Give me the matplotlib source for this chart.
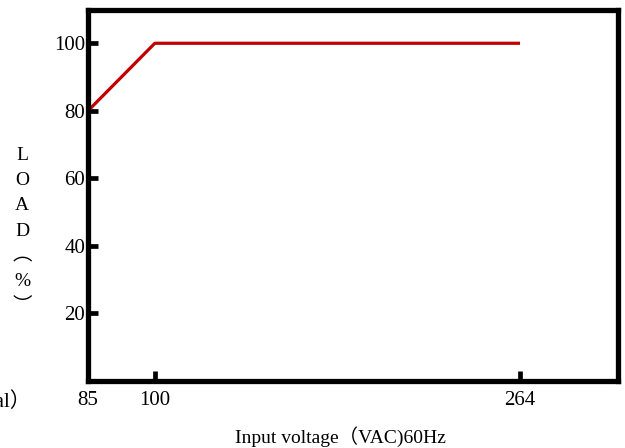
import numpy as np
import matplotlib
matplotlib.use('Agg')
import matplotlib.pyplot as plt

# dados da curva de derating (tensão de entrada x carga)
tensao = [85, 100, 264]
carga = [80, 100, 100]

xticks = [85, 100, 264]
yticks = [20, 40, 60, 80, 100]

# eixo x não linear: trecho 85-100 mais largo que o resto
pontos_x = [85, 100, 308]
pos_x = [0.0, 15.0, 15.0 + 208 / 2.0]

def fwd(v):
    return np.interp(v, pontos_x, pos_x, left=-1e9, right=1e9)

def inv(p):
    return np.interp(p, pos_x, pontos_x)

fonte = ['Liberation Serif', 'Noto Sans CJK SC']
plt.rcParams['font.family'] = fonte

fig = plt.figure(figsize=(6.25, 4.48), dpi=100)
ax = fig.add_axes([88 / 625, 1 - 381 / 448, (618 - 88) / 625, (381 - 9.5) / 448])

ax.set_xscale('function', functions=(fwd, inv))
ax.plot(tensao, carga, color='#c00000', linewidth=2.3, solid_capstyle='butt', clip_on=False)

ax.set_xlim(85, 308)
ax.set_ylim(0, 110)
ax.set_xticks(xticks)
ax.set_xticklabels([str(v) for v in xticks])
ax.set_yticks(yticks)
ax.set_yticklabels([str(v) for v in yticks])
ax.minorticks_off()

for s in ax.spines.values():
    s.set_linewidth(3.8)
ax.tick_params(direction='in', length=7.5, width=3.4, labelsize=15, pad=2)
ax.tick_params(axis='x', pad=7)

fig.text(340 / 625, 1 - 437 / 448, 'Input voltage（VAC)60Hz', ha='center', va='center',
         fontsize=14, family=fonte)
fig.text(22 / 625, 1 - 231 / 448, 'L\nO\nA\nD\n︵\n%\n︶', ha='center', va='center',
         fontsize=14, linespacing=1.62, family=fonte)
fig.text(31 / 625, 1 - 402 / 448, '（vertical）', ha='right', va='center',
         fontsize=15, family=fonte)

fig.savefig('out.png', dpi=100)
